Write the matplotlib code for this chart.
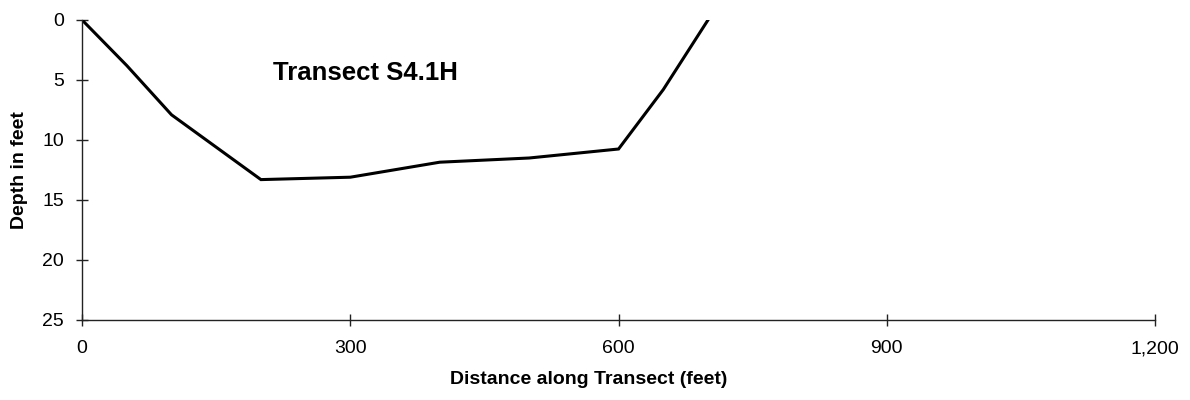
import matplotlib
matplotlib.use("Agg")
import matplotlib.pyplot as plt
from matplotlib.ticker import FuncFormatter

plt.rcParams['font.family'] = ['Liberation Sans', 'DejaVu Sans']

distance = [0, 50, 100, 200, 300, 400, 500, 600, 650, 700]
depth = [0, 3.8, 7.9, 13.3, 13.1, 11.85, 11.5, 10.75, 5.8, 0]

x_ticks = [0, 300, 600, 900, 1200]
y_ticks = [0, 5, 10, 15, 20, 25]

fig = plt.figure(figsize=(11.9, 4.0), dpi=100)
ax = fig.add_axes([0.069, 0.2, 0.9016, 0.75])

ax.plot(distance, depth, color='black', linewidth=2.2, solid_joinstyle='miter')

ax.set_xlim(0, 1200)
ax.set_ylim(25, 0)
ax.set_xticks(x_ticks)
ax.set_yticks(y_ticks)
ax.xaxis.set_major_formatter(FuncFormatter(lambda v, p: f"{int(v):,}"))

for s in ['top', 'right']:
    ax.spines[s].set_visible(False)
for s in ['left', 'bottom']:
    ax.spines[s].set_linewidth(1.0)
    ax.spines[s].set_color('#222222')

ax.tick_params(axis='both', direction='inout', length=9, width=1.0, labelsize=14, color='#222222')
ax.tick_params(axis='x', pad=10)
ax.tick_params(axis='y', pad=8.5)

fig.text(588.5 / 1190, 1 - 380 / 400, 'Distance along Transect (feet)', fontsize=14,
         fontweight='bold', ha='center', va='center')
fig.text(20 / 1190, 1 - 170 / 400, 'Depth in feet', fontsize=14, fontweight='bold',
         ha='center', va='center', rotation=90)

ax.text(213.6, 4.45, 'Transect S4.1H', fontsize=18.5, fontweight='bold', ha='left', va='center')

fig.savefig('out.png', dpi=100)
